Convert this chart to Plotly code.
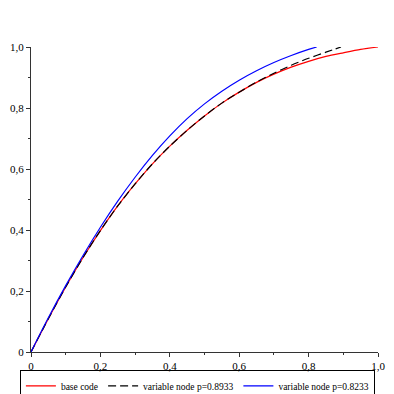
import plotly.graph_objects as go

# values
base_x = [0, 0.05, 0.1, 0.15, 0.2, 0.25, 0.3, 0.35, 0.4, 0.45, 0.5, 0.55, 0.6,
          0.65, 0.7, 0.75, 0.8, 0.85, 0.9, 0.95, 1.0]
base_y = [0, 0.109, 0.213, 0.31, 0.398, 0.479, 0.551, 0.617, 0.675, 0.727, 0.774,
          0.816, 0.852, 0.884, 0.911, 0.934, 0.953, 0.969, 0.981, 0.992, 1.0]

var1_x = [0, 0.05, 0.1, 0.15, 0.2, 0.25, 0.3, 0.35, 0.4, 0.45, 0.5, 0.55, 0.6,
          0.65, 0.7, 0.75, 0.8, 0.85, 0.8933]
var1_y = [0, 0.109, 0.213, 0.31, 0.398, 0.479, 0.551, 0.617, 0.675, 0.727, 0.774,
          0.816, 0.852, 0.885, 0.914, 0.940, 0.963, 0.983, 1.0]

var2_x = [0, 0.05, 0.1, 0.15, 0.2, 0.25, 0.3, 0.35, 0.4, 0.45, 0.5, 0.55, 0.6,
          0.65, 0.7, 0.75, 0.8, 0.8233]
var2_y = [0, 0.112, 0.2175, 0.3165, 0.409, 0.4945, 0.573, 0.6445, 0.7085, 0.765,
          0.8135, 0.855, 0.891, 0.922, 0.949, 0.972, 0.992, 1.0]

tick_vals = [0, 0.2, 0.4, 0.6, 0.8, 1.0]
tick_text = ["0", "0,2", "0,4", "0,6", "0,8", "1,0"]

SERIF = "Liberation Serif, Times New Roman, serif"

fig = go.Figure()
fig.add_trace(go.Scatter(x=base_x, y=base_y, mode="lines", name="base code",
                         line=dict(color="#ff0000", width=1.2, shape="spline", smoothing=0.8)))
fig.add_trace(go.Scatter(x=var1_x, y=var1_y, mode="lines", name="variable node p=0.8933",
                         line=dict(color="#000000", width=1.2, dash="8px,4px", shape="spline", smoothing=0.8)))
fig.add_trace(go.Scatter(x=var2_x, y=var2_y, mode="lines", name="variable node p=0.8233",
                         line=dict(color="#0000ff", width=1.2, shape="spline", smoothing=0.8)))

axis_style = dict(
    range=[0, 1],
    tickvals=tick_vals,
    ticktext=tick_text,
    ticks="outside",
    ticklen=4,
    tickwidth=1,
    tickcolor="#333",
    showline=True,
    linecolor="#333",
    linewidth=1,
    showgrid=False,
    zeroline=False,
    automargin=False,
    minor=dict(dtick=0.1, tick0=0, ticks="outside", ticklen=2, tickcolor="#333", showgrid=False),
    tickfont=dict(family=SERIF, size=11, color="black"),
)

fig.update_xaxes(**axis_style)
fig.update_yaxes(**axis_style)

# the page body adds an 8px margin, so the figure origin sits at (8, 8) in the window
fig.update_layout(
    width=378,
    height=386,
    margin=dict(l=23, r=8, t=39, b=42, autoexpand=False),
    plot_bgcolor="white",
    paper_bgcolor="white",
    showlegend=True,
    legend=dict(
        orientation="h",
        x=-0.032,
        xanchor="left",
        y=-0.06,
        yanchor="top",
        bgcolor="rgba(255,255,255,0)",
        bordercolor="black",
        borderwidth=1,
        font=dict(family=SERIF, size=9.5, color="black"),
        itemwidth=30,
        tracegroupgap=0,
    ),
)

fig.write_html("out.html")
